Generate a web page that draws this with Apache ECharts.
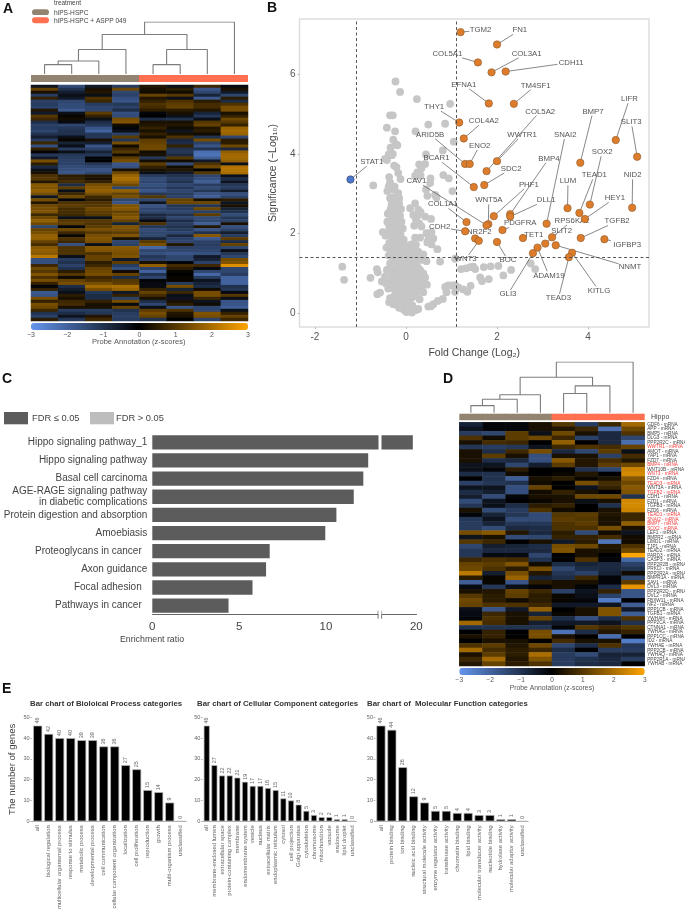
<!DOCTYPE html>
<html><head><meta charset="utf-8">
<style>html,body{margin:0;padding:0;background:#fff}#c{width:685px;height:910px}</style>
<script src="https://cdn.jsdelivr.net/npm/echarts@6/dist/echarts.min.js"></script>
</head><body><div id="c"></div>
<script>
const FONT='"Liberation Sans",Arial,sans-serif';
const TAUPE='#938471', CORAL='#ff6f50';
const treatmentNames=['hiPS-HSPC','hiPS-HSPC + ASPP 049'];
const treatmentOfColumn=[0,0,0,0,1,1,1,1];
const dendroA=[[0,1,.18],[8,2,.25],[9,3,.47],[4,5,.18],[11,6,.47],[10,12,.76],[13,7,1]];
const dendroD=[[0,1,.14],[8,2,.265],[9,3,.355],[4,5,.38],[11,6,.53],[10,12,.70],[13,7,1]];
const probeValues=[
[-.4,-1.5,-.5,-1.2,.4,-.3,.7,-.2],[1.2,-1,.3,1.3,.3,.5,-1.7,.3],[.3,-.6,.4,-1.4,.2,.2,-1.4,-.5],[-1.2,-.3,-.3,-1.3,1.2,1,-.7,-1.4],
[.6,-.5,.9,-1.6,.4,-.3,-1.8,.5],[-1.3,-1.4,.7,-1.7,.6,.9,.5,-.9],[-1.2,-1.5,-1.2,-1.1,.9,1.1,.8,.9],[-1.3,-1.5,-1.4,-1.3,.8,1.2,.8,1.4],
[.4,-1.8,-1.4,-.9,.5,.5,.4,1.4],[-.5,-.3,1.1,-1.6,-.1,.3,-.7,.3],[1,.1,.6,-1.5,0,-.3,-1.1,.6],[.7,.2,-.3,1.4,-.9,-1,-.3,1.3],
[-.9,-.2,-.9,1.5,.3,.3,1,1],[-1.3,-1.4,-1.1,.2,.4,.4,1.2,.6],[-1.2,-1.1,-1.7,-.1,.6,.2,.4,1.8],[-1.4,-1,-2,-.3,.3,-.4,.5,1.9],
[-1,-1,-1.1,-1.3,.6,.3,.2,1.8],[-.6,-.3,-1.1,1.1,.3,.9,-1,-1.4],[-1.2,.1,.3,-1.1,1.1,-.8,1.4,.5],[.7,-.7,-.6,1.4,1.2,-.9,-1.3,.5],
[-1.6,-.3,-1.7,.2,1.3,.6,-1.7,1.3],[.6,-1.2,-1.3,.7,1.3,-1,-1,-.8],[-.1,-.3,-.7,1,.2,-1.1,-2.2,1.7],[-1.1,-1.1,-1.1,.2,.3,-.8,-2.3,1.9],
[-.5,-1.2,-.1,1.1,-1.1,1,-1.9,1.9],[1.4,-1.3,0,1.4,.2,.2,-.5,1.7],[.5,-1.3,-1.1,-1.7,1.1,-1.5,.9,-.3],[-.8,-1.5,-1.4,-1.6,.6,.2,1.3,2.1],
[-.3,-1.6,-1.7,.3,.3,.4,0,2.1],[.3,-1.7,-1.4,1.3,-.3,-.5,1,2],[.9,.5,.4,1.8,-1.2,-1,-1.4,-.3],[1,.6,.3,2,-1.5,-1.2,-1.6,-.9],
[.4,.8,.6,1.7,-1.4,-1,-1.9,-.4],[1.6,-.9,1.4,1.3,-1.6,-1.4,-1.2,-1.1],[1.5,1.1,1.6,-1.4,-1.4,-1.1,-1.5,-1.2],[1.7,-.3,1.7,1.7,-1.7,-1.4,-1.1,-.6],
[1.4,.7,1.4,1.2,-1.1,-1.2,-1.7,-1.6],[-.4,1.3,.7,1.4,1,-1.3,-1.9,-1.3],[1.4,-.1,.5,-1.4,-1.4,1.2,.3,.5],[.4,.9,.9,-1.7,-.4,1.3,1.3,-.4],
[1.3,1.1,1,1.5,-1.7,-1.1,-1.1,.3],[1.4,.8,1.3,1.6,-1.4,-1.2,1.3,-.7],[1.5,.8,1.1,1.2,-1.4,-1.4,-1.3,-1],[.7,.7,1,1.4,-.8,-1,1.1,-1.5],
[1.3,-.3,-.3,1.6,-.9,-1.4,-1.5,-1.1],[1.7,1,1,1.2,-.2,-.9,-1.4,-1.3],[1.3,1.1,.9,-.7,.9,-1.2,-1.9,.3],[-1.4,-.1,1.1,1.5,-1.1,-1,.4,-1.6],
[1.2,1.3,1.4,1.4,-1.5,-1.2,-1.7,-1.3],[1.4,.7,1,1.1,-1.4,-1.4,-1,-.6],[1.7,.1,1.4,1.5,-1.4,-.8,1.6,-1.2],[1.7,.9,1.5,.3,-.7,-1.3,-1.8,1.1],
[1.2,.7,1.4,-1.4,1,-1.4,-1.3,-.9],[.8,-1.6,-.3,-1.3,1.4,.4,-1.2,1.2],[1.6,.9,1.6,1.6,-2.1,-1.3,-1.3,-1.4],[1.7,.9,1.5,1.5,-1.4,-1.4,-1.4,-.3],
[1.6,.9,.9,1.4,-1.6,-1.7,-1.6,-1.1],[2.2,-.3,1.2,1.5,-1.1,-1.4,-.5,-1.4],[-1.6,-1.2,1.2,-.5,-1.3,-1.4,-.7,1.4],[-1.6,-1,.5,1.1,.3,-.1,-1.3,1.5],
[.7,-1.3,.7,-1.2,1.7,.8,.7,2.6],[1.3,-1,1.2,-1.6,-1.3,.5,-.2,-1.4],[1,.5,1.3,.2,-2,.1,-1.4,-1.4],[1.5,1,1.4,1.2,-1,0,-2.1,-1.2],
[.9,.2,.7,-.9,-1.4,.1,-1.2,-2],[1.4,1.2,.9,1,-.1,.1,-.4,-2],[.6,1.4,1.4,1.1,-.2,-1.2,-.7,-2],[-.1,-.9,1.9,2,-.2,1.4,-.9,-1],
[.6,-.6,1.4,1.8,.6,-.7,.2,-1.1],[-1.8,-.3,-1.1,-.5,1.2,.7,1.4,-.2],[-1.7,.5,-.9,.6,.8,-.3,1.4,1],[1.4,.3,-.9,-1.3,.3,-.4,.7,-.3],
[.6,.7,.6,1.4,-.9,.3,-.4,-1.7],[1.4,.8,.3,-.2,-1.4,.5,.2,-1.7],[1.3,.3,.3,1.2,-.3,-1.7,-1.4,-1.9],[.7,-1.2,-1.2,-1,1.1,.9,-1.4,-.3],
[-1,-.9,-1.1,-1.2,1.4,.4,1.5,.6],[-1.3,-.4,.4,-1.3,1.2,.3,1.4,1.2],[.5,-1.1,.7,-1.2,-1,0,-1.3,.7]];

const volcanoGray=[
[-.23,5.82],[-.13,5.56],[.24,5.38],[.97,5.26],[-.35,4.97],[-.29,4.97],[.49,4.74],[.86,4.76],[-.42,4.66],[-.24,4.57],[.21,4.57],[-.28,4.36],[1.05,4.31],[-.23,4.25],[-.19,4.22],[-.34,4.16],[.81,4.09],[-.29,4],[-.38,3.99],[-.46,3.88],[-.42,3.85],[-.31,3.97],[.44,3.99],[.29,3.74],[.42,3.75],[-.26,3.71],[-.21,3.67],[.34,3.64],[.25,3.54],[.2,3.45],[.82,3.47],[.94,3.39],[-.17,3.52],[-.12,3.37],[-.37,3.42],[.54,3.39],[.32,3.46],[-.72,3.21],[-.35,3.29],[.53,3.27],[-.38,3.18],[-.25,3.18],[-.26,3.1],[-.41,3.07],[.44,3.11],[-.17,3.02],[-.19,2.95],[1.02,3.07],[.47,2.95],[.64,2.97],[-.32,2.91],[.67,2.91],[-.15,2.89],
[-.35,2.89],[-.28,2.85],[-.17,2.91],[-.15,2.76],[-.32,2.72],[-.24,2.68],[-.34,2.61],[-.17,2.6],[-.26,2.47],[-.13,2.45],[-.32,2.35],[-.21,2.32],[-.1,2.3],[-.37,2.2],[-.24,2.18],[-.15,2.15],[-.51,2.04],[-.42,2.03],[-.32,2.04],[-.21,2.01],[-.12,1.98],[-.31,1.88],[-.22,1.84],[-.13,1.8],[-.37,1.76],[-.26,1.72],[-.18,1.68],[-.09,1.65],[-.34,1.59],[-.23,1.55],[-.15,1.53],[-.06,1.51],[-.28,1.42],[-.19,1.38],[-.1,1.37],[-.01,1.34],[-.24,1.3],[-.27,2.55],[-.2,2.42],[-.29,2.1],[-.18,1.93],[-.28,1.65],[-.3,1.5],
[-.17,1.23],[-.1,1.2],[-.02,1.17],[.06,1.2],[-.23,1.11],[-.15,1.09],[-.06,1.06],[.03,1.08],[.12,1.11],[-.21,.96],[-.12,.94],[-.03,.91],[.06,.95],[.15,.98],[-.18,.81],[-.1,.8],[-.01,.78],[.09,.81],[.18,.84],[-.15,.67],[-.07,.64],[.01,.63],[.1,.66],[.19,.7],[-.17,.53],[-.09,.5],[0,.49],[.09,.52],[-.13,.38],[-.06,.36],[.03,.36],[.12,.39],[-.1,.23],[-.01,.21],[.07,.23],[-.04,.08],[.01,.03],[.06,.11],
[-1.4,1.17],[-1.36,.84],[-.78,.89],[-.64,1.11],[-.62,1.03],[-.53,.8],[-.46,.92],[-.37,.78],[-.57,.52],[-.63,.48],[-.35,.38],[-.37,.28],[-.28,.23],[-.22,.31],[-.42,1.09],[-.31,.96],
[.09,2.64],[.2,2.76],[.27,2.6],[.32,2.54],[.16,2.47],[.25,2.45],[.42,2.43],[.55,2.37],[.22,2.35],[.29,2.26],[.18,2.2],[.34,2.18],[.45,2.01],[.56,2.04],[.2,1.9],[.31,1.9],[.49,1.84],[.6,1.88],[.47,1.78],[.56,1.73],[.69,1.61],[.12,1.73],[.22,1.72],[.09,1.63],[.18,1.59],[.27,1.55],[.16,1.47],[.38,1.48],[.25,1.38],[.34,1.34],[.45,1.31],[.75,1.3],[.12,1.3],[.22,1.21],[.31,1.09],[.38,1],[.2,.96],[.27,.84],[.38,.81],[.34,.67],[.38,.53],[.23,.48],[.05,1.5],[-.02,1.4],[.05,1.35],
[.49,.17],[.55,.18],[.6,.23],[.7,.31],[.81,.36],[.27,.11],[.22,.08],[.86,.66],[.93,.7],[1,.7],[1.08,.71],[1.15,.65],[1.26,.6],[1.35,.54],[1.42,.69],[.89,.53],[1.08,.54],
[1.21,1.11],[1.32,1.13],[1.41,1.16],[1.48,1.17],[1.52,1.11],[1.71,1.16],[1.86,1.18],[2.03,1.19],[2.31,1.09],[2.14,.95],[1.63,.9],[1.67,.81],[1.82,.86],[1.08,1.37],[2.84,1.11],[2.74,1.25],
[-.4,2.5],[-.11,2.62],[-.41,2.3],[-.07,2.13],[-.45,1.95],[-.05,1.85],[-.43,1.65],[-.02,1.72],[-.38,1.45],[.02,1.62],[-.35,1.25],[.08,1.45],[-.33,1.1],[.19,1.32],[-.28,.8],[.26,1.15],[-.27,.62],[.28,.98],[-.25,.45],[.22,.58],[-.2,.2],[.16,.42],[-.15,.14],[.14,.2],[-.39,.62],[-.44,.75],[.42,.9],[.46,.72],[.3,.35],[.13,.02]];
// gene, x, y, label x, label y
const volcanoGenes=[
['TGM2',1.20,7.06,1.64,7.11],['FN1',2.00,6.75,2.50,7.11],['COL5A1',1.58,6.30,.91,6.52],['COL3A1',1.88,6.05,2.65,6.52],['CDH11',2.19,6.07,3.63,6.30],['EFNA1',1.82,5.27,1.27,5.74],['TM4SF1',2.37,5.26,2.85,5.72],['THY1',1.17,4.79,.62,5.18],['COL4A2',1.27,4.39,1.71,4.83],['ARID5B',1.30,3.75,.53,4.49],['ENO2',1.40,3.75,1.62,4.21],['COL5A2',1.77,3.57,2.95,5.07],['WWTR1',2.00,3.82,2.55,4.48],['SDC2',1.72,3.22,2.31,3.63],['BCAR1',1.49,3.17,.67,3.90],['BMP7',3.83,3.78,4.11,5.07],['LIFR',4.61,4.35,4.91,5.38],['SLIT3',5.08,3.93,4.95,4.80],['STAT1',-1.22,3.36,-.75,3.80],['NID2',4.97,2.65,4.98,3.47],['TEAD1',3.81,2.52,4.14,3.47],['SOX2',4.04,2.73,4.31,4.05],['LUM',3.55,2.64,3.56,3.32],['HEY1',3.93,2.37,4.59,2.89],['BMP4',2.29,2.49,3.14,3.89],['DLL1',2.29,2.43,3.08,2.84],['PHF1',1.93,2.44,2.70,3.23],['WNT5A',1.81,2.24,1.82,2.84],['CAV1',1.77,2.21,.23,3.32],['COL1A1',1.33,2.29,.81,2.74],['CDH2',1.30,2.06,.74,2.16],['NR2F2',1.52,1.88,1.61,2.04],['WNT3',1.60,1.82,1.31,1.36],['PDGFRA',2.12,2.09,2.51,2.26],['BOC',2.00,1.79,2.24,1.33],['SNAI2',3.09,2.25,3.50,4.48],['RPS6KA2',3.21,1.91,3.65,2.32],['SLIT2',3.06,1.75,3.42,2.08],['TET1',2.57,1.89,2.81,1.96],['NNMT',3.29,1.71,4.92,1.16],['ADAM19',2.89,1.65,3.14,.95],['GLI3',2.79,1.51,2.24,.48],['KITLG',3.65,1.52,4.24,.57],['TEAD3',3.58,1.41,3.35,.38],['TGFB2',3.84,1.89,4.64,2.31],['IGFBP3',4.36,1.86,4.86,1.73]];
const foldCutoffs=[-1.09,1.10], significanceCutoff=1.40;

const pathwayNames=['Hippo signaling pathway_1','Hippo signaling pathway','Basal cell carcinoma','AGE-RAGE signaling pathway\nin diabetic complications','Protein digestion and absorption','Amoebiasis','Proteoglycans in cancer  ','Axon guidance','Focal adhesion  ','Pathways in cancer  '];
const enrichmentRatio=[19.8,12.43,12.15,11.6,10.6,9.96,6.76,6.55,5.77,4.39];
const enrichmentTicks=[0,1,2,3,4,5,6,7,8,9,10,11,12,13,18,19,20];
const enrichmentLabels=[0,5,10,20];
const enrichmentBreak=[13,18];

const hippoGenes=['GDF6','APP','BMP5','DLG3','PPP2R2C','WWTR1','AMOT','YAP1','FZD7','BMP4','WNT10B','WNT3','FZD4','TEAD3','WNT3A','TGFB2','CDH1','FZD1','TGFB3','FZD6','TEAD1','SNAI2','BMP7','SOX2','LEF1','BMPR2','LIMD1','TJP1','TEAD2','PARD3','CASP3','PPP2R2B','PRKCI','PPP2R2A','BMPR1A','SAV1','DVL3','PPP2R2D','DVL2','FBXW11','NF2','PPP1CB','TGFB1','YWHAH','PPP2CA','CTNNA1','YWHAG','PPP1CC','ID2','YWHAE','PPP2CB','YWHAQ','PPP2R1A','YWHAB'];
const hippoHighlighted=['WWTR1','BMP4','WNT3','TEAD3','TGFB2','TEAD1','SNAI2','BMP7','SOX2'];
const hippoValues=[
[-.7,-.1,-.1,.3,1,-1.2,.7,1.9],[-.4,-.1,-.1,.3,.4,.7,-2.2,1.3],[-1.2,-1.4,1.1,-.3,1.3,.3,-.8,.9],[.9,.2,1.1,1.3,.7,-1.3,-.8,-1.4],[.3,.8,.7,0,1.7,0,-.8,-2.2],[-1.1,-1.2,-1.1,-.4,.7,.9,.8,1.2],
[.3,-.9,.7,1.4,-.8,-1.4,1.1,-.3],[.3,1.1,.3,-1.6,.3,.3,-1.3,.8],[.3,-.9,-.8,-1.6,1.6,.4,.8,.4],[-.4,-.4,-1.4,-.6,1.1,.4,1.1,1.3],[-.3,-.1,.5,0,0,-1,-1.4,2.4],[-.9,-1,.2,0,.1,.4,0,2.5],
[0,-1,-1.9,.3,.5,.1,.3,1.6],[-1.3,-1.1,-1,.2,0,1.4,.8,1.3],[-.4,-.4,-1.6,1.2,0,-.4,.6,1.6],[-.9,-.6,-1.6,.2,.6,.3,0,1.5],[-.6,-1.5,-.1,.3,.3,1.3,1.3,-1],[-1.5,-.4,0,.1,.3,-.3,.3,2.5],
[-1.1,-.3,-.9,.5,.6,0,-1,2.5],[.3,-1.5,-1.2,.9,.2,0,.3,2.4],[-.1,-.7,-1.1,-1.5,1,1.1,.4,.7],[-1.1,-.4,-1.5,-1.5,1.1,1,.3,.7],[-1.2,-.7,-1.1,-1.1,.9,1.1,.3,1.7],[-1.2,-1.5,-.8,-.9,.9,.9,1.4,.3],
[1.4,1.6,.4,-.8,.5,-1.5,.2,-.4],[-.4,.3,-1.5,-1.4,.6,.6,.8,.2],[1,.7,0,.3,-.5,.5,-2.4,.2],[-1.4,-.6,-.7,-.9,1.4,1.3,.4,.9],[-1.1,-.8,-.8,-.8,1.5,.3,.3,1.3],[-1.1,-.2,-.2,-1.4,0,.3,0,3],
[.7,.9,.8,-1,0,.9,-.1,-2.1],[1.2,1.1,1.5,.2,-.9,-.7,-.8,-1.3],[1.3,.9,.5,1.4,-1.4,-.9,-.8,-1],[2.2,-.6,1.4,.4,-1.1,-1.3,-.7,.2],[.5,.1,1.8,-.7,-.9,.7,-.1,-1.4],[-1.9,.1,-1.7,.5,.3,.3,-.1,1.1],
[-.2,-1.1,-.3,-.1,.3,-.1,-.9,2.7],[.3,.4,1.2,.7,-1.3,-.4,.6,-1.7],[1,.5,1.1,.5,.1,-.3,-1.3,-1.7],[1.3,.5,.2,.5,.1,-.1,-2.5,0],[1.2,.9,.9,.7,-.5,-.5,-.4,-1.9],[-.3,-1.7,-.5,1.7,0,.3,1.5,-.5],
[-.2,.7,.3,-.7,.1,.3,1.5,-1.9],[-.1,.9,.3,1.2,-.9,-1.6,-.9,.9],[1.9,.8,.3,-.6,-.5,-.5,-.4,-1],[-1,-1,-1,-1,-.1,1,.7,1],[0,.6,0,1.4,-2.3,-.9,.4,.6],[.3,.6,0,1.4,.3,0,-2.2,0],
[0,.3,.3,0,.8,.3,.3,-2.5],[.9,1.1,.4,1.3,-1.4,-.9,.9,-1.1],[1.9,.8,.5,.7,-.9,0,-1.2,-1.2],[.3,1.1,.5,2,-1.2,-1.5,-.7,-.7],[.7,1.9,.4,1.5,-1.2,-1,-.8,-1.2],[.4,1.2,.5,.9,-1.2,-.9,-.8,0]];

const bpNames=['all','biological regulation','multicellular organismal process','response to stimulus','metabolic process','developmental process','cell communication','cellular component organization','localization','cell proliferation','reproduction','growth','multi-organism process','unclassified'];
const bpGenes=[46,42,40,40,39,39,36,36,27,25,15,14,9,0];
const ccNames=['all','membrane-enclosed lumen','extracellular space','protein-containing complex','membrane','endomembrane system','vesicle','nucleus','extracellular matrix','endoplasmic reticulum','cytosol','cell projection','Golgi apparatus','cytoskeleton','chromosome','mitochondrion','vacuole','endosome','lipid droplet','unclassified'];
const ccGenes=[46,27,22,22,21,19,17,17,16,15,11,10,8,5,3,2,2,1,1,0];
const mfNames=['all','protein binding','ion binding','nucleic acid binding','structural molecule activity','enzyme regulator activity','transferase activity','chromatin binding','lipid binding','molecular transducer activity','nucleotide binding','hydrolase activity','molecular adaptor activity','unclassified'];
const mfGenes=[46,44,26,12,9,5,5,4,4,3,3,1,1,0];

const grids=[],xAxes=[],yAxes=[],series=[];
function addGrid(g,x,y){grids.push(Object.assign({containLabel:false,show:false,outerBoundsMode:'none'},g));
 const i=grids.length-1;xAxes.push(Object.assign({gridIndex:i},x));yAxes.push(Object.assign({gridIndex:i},y));return i;}
const HID={show:false};
function dendroPath(m){const pos=[];for(let i=0;i<8;i++)pos[i]=[i+.5,0];const d=[];
 m.forEach(([a,b,h])=>{const A=pos[a],B=pos[b];d.push([A[0],A[1]],[A[0],h],[B[0],h],[B[0],B[1]],['-','-']);pos.push([(A[0]+B[0])/2,h]);});return d;}
function heatData(v){const d=[];v.forEach((r,ri)=>r.forEach((c,ci)=>d.push([ci,ri,c])));return d;}
const cols=[0,1,2,3,4,5,6,7];
function heatBlock(L,W,T,H,barT,barH,dT,dH,merges,values,rowCfg,cbT,tickFont){
 const hg=addGrid({left:L,width:W,top:T,height:H},{type:'category',data:cols,show:false},
   Object.assign({type:'category',data:values.map((_,i)=>i),inverse:true,show:false},rowCfg||{}));
 const hi=series.length;
 series.push({type:'heatmap',xAxisIndex:hg,yAxisIndex:hg,data:heatData(values),silent:true,progressive:0});
 const dg=addGrid({left:L,width:W,top:dT,height:dH},{type:'value',min:0,max:8,show:false},{type:'value',min:0,max:1,show:false});
 series.push({type:'line',xAxisIndex:dg,yAxisIndex:dg,data:dendroPath(merges),showSymbol:false,connectNulls:false,silent:true,lineStyle:{color:'#7c7c7c',width:1.1}});
 const ag=addGrid({left:L,width:W,top:barT,height:barH},{type:'category',data:cols,show:false},{type:'value',min:0,max:1,show:false});
 series.push({type:'bar',xAxisIndex:ag,yAxisIndex:ag,barWidth:W/8+1,silent:true,data:treatmentOfColumn.map(t=>({value:1,itemStyle:{color:t?CORAL:TAUPE}}))});
 addGrid({left:L,width:W,top:cbT,height:7},
   {type:'value',min:-3,max:3,interval:1,axisLine:HID,axisTick:HID,splitLine:HID,
    axisLabel:{margin:2,fontFamily:FONT,fontSize:tickFont,color:'#555',formatter:v=>String(v).replace('-','\u2212')}},
   {type:'value',show:false,min:0,max:1});
 return {hi,cbT,L,W};
}
const A=heatBlock(31,217,85,236,75,7,22,52,dendroA,probeValues,null,323,7);
const D=heatBlock(459.3,185.4,422.3,243.7,413.7,6.5,362,50.7,dendroD,hippoValues,
  {show:true,position:'right',axisLine:HID,axisTick:HID,data:hippoGenes.map(g=>g+' - mRNA'),
   axisLabel:{show:true,interval:0,margin:2.5,fontFamily:FONT,fontSize:4.7,
     color:(v)=>hippoHighlighted.includes(v.split(' ')[0])?'#f53a3a':'#444'}},668,6.5);

// Volcano
const vg=addGrid({show:true,left:299.5,width:349.5,top:19,height:308,borderColor:'#dedede',borderWidth:1.5,backgroundColor:'#fff'},
 {type:'value',min:-2.34,max:5.34,name:'Fold Change (Log\u2082)',nameLocation:'middle',nameGap:21,
  nameTextStyle:{fontFamily:FONT,fontSize:10.5,color:'#444'},splitLine:HID,axisLine:{show:false,onZero:false},
  axisTick:{customValues:[-2,0,2,4],length:2,lineStyle:{color:'#bbb'}},
  axisLabel:{customValues:[-2,0,2,4],margin:5,fontFamily:FONT,fontSize:10,color:'#555'}},
 {type:'value',min:-.344,max:7.39,name:'Significance (\u2212Log\u2081\u2080)',nameLocation:'middle',nameGap:12,
  nameTextStyle:{fontFamily:FONT,fontSize:10.5,color:'#444'},splitLine:HID,axisLine:{show:false,onZero:false},
  axisTick:{customValues:[0,2,4,6],length:2,lineStyle:{color:'#bbb'}},
  axisLabel:{customValues:[0,2,4,6],margin:4,fontFamily:FONT,fontSize:10,color:'#555'}});
const mlStyle={color:'#444',type:[3,2.5],width:.9};
series.push({type:'scatter',xAxisIndex:vg,yAxisIndex:vg,data:volcanoGray,symbolSize:7.8,silent:true,itemStyle:{color:'#c6c6c6',opacity:1},
 markLine:{silent:true,symbol:'none',label:HID,lineStyle:mlStyle,animation:false,
  data:[{xAxis:foldCutoffs[0]},{xAxis:foldCutoffs[1]},{yAxis:significanceCutoff}]}});
series.push({type:'custom',xAxisIndex:vg,yAxisIndex:vg,silent:true,clip:false,z:3,
 data:volcanoGenes.map(g=>g.slice(1)),
 renderItem(params,api){
  const p=api.coord([api.value(0),api.value(1)]),l=api.coord([api.value(2),api.value(3)]);
  const name=volcanoGenes[params.dataIndex][0];
  const hw=name.length*2.55+1,hh=4.2,dx=p[0]-l[0],dy=p[1]-l[1];
  const t=Math.min(dx?hw/Math.abs(dx):1e9,dy?hh/Math.abs(dy):1e9);
  return {type:'group',children:[
   {type:'line',shape:{x1:p[0],y1:p[1],x2:l[0]+dx*t,y2:l[1]+dy*t},style:{stroke:'#555',lineWidth:.7}},
   {type:'text',style:{text:name,x:l[0],y:l[1],align:'center',verticalAlign:'middle',font:'7.8px '+FONT,fill:'#555'}}]};
 }});
series.push({type:'scatter',xAxisIndex:vg,yAxisIndex:vg,z:4,silent:true,symbolSize:7.4,
 data:volcanoGenes.map(g=>({value:[g[1],g[2]],itemStyle:g[1]<0?{color:'#4d78cf',borderColor:'#345',opacity:1}:{color:'#dd7d2c',borderColor:'#8b5a2b',opacity:1}})),
 itemStyle:{borderWidth:.6}});

// Enrichment bars
const cg=addGrid({left:152.3,width:264,top:433.2,height:181.5},
 {type:'value',min:0,max:20,interval:5,breaks:[{start:enrichmentBreak[0],end:enrichmentBreak[1],gap:.2}],
  breakArea:{show:true,expandOnClick:false,zigzagAmplitude:0,itemStyle:{color:'#fff',borderColor:'#fff',borderWidth:0,opacity:1}},
  axisLine:{show:true,onZero:false,lineStyle:{color:'#666',width:1}},splitLine:HID,
  axisTick:{customValues:enrichmentTicks,length:3,lineStyle:{color:'#666'}},
  axisLabel:{customValues:enrichmentLabels,margin:6,fontFamily:FONT,fontSize:11.5,color:'#444'}},
 {type:'category',data:pathwayNames,inverse:true,axisLine:HID,axisTick:HID,
  axisLabel:{margin:5,fontFamily:FONT,fontSize:10,color:'#444',lineHeight:11,align:'right'}});
series.push({type:'bar',xAxisIndex:cg,yAxisIndex:cg,data:enrichmentRatio,barWidth:14.3,silent:true,itemStyle:{color:'#5c5c5c'}});
series.push({type:'custom',xAxisIndex:cg,yAxisIndex:cg,silent:true,clip:false,z:5,data:enrichmentBreak.map(v=>[v]),
 renderItem(params,api){const x=api.coord([api.value(0),0])[0],b=params.coordSys.y+params.coordSys.height;
  return {type:'line',shape:{x1:x,y1:b-4,x2:x,y2:b+4},style:{stroke:'#555',lineWidth:.8}};}});

// GO bars
function goPanel(left,width,names,vals,barW,yName){
 const g=addGrid({left,width,top:717.3,height:104},
  {type:'category',data:names,axisLine:{lineStyle:{color:'#999',width:.8}},axisTick:{length:2,alignWithLabel:true,lineStyle:{color:'#999',width:.6}},
   axisLabel:{interval:0,rotate:90,margin:4,fontFamily:FONT,fontSize:5.9,color:'#666'}},
  {type:'value',min:0,max:50,interval:10,splitLine:HID,axisLine:HID,axisTick:{show:true,length:2,lineStyle:{color:'#999',width:.6}},
   axisLabel:{margin:2.5,fontFamily:FONT,fontSize:5.6,color:'#666'},
   name:yName||'',nameLocation:'middle',nameGap:14.5,nameTextStyle:{fontFamily:FONT,fontSize:9.6,color:'#444'}});
 series.push({type:'bar',xAxisIndex:g,yAxisIndex:g,data:vals,barWidth:barW,silent:true,
  itemStyle:{color:'#000',borderColor:'#b5b5b5',borderWidth:.7},
  label:{show:true,position:'top',rotate:90,distance:2,align:'left',verticalAlign:'middle',fontFamily:FONT,fontSize:5.4,color:'#666'}});
}
goPanel(32.2,154,bpNames,bpGenes,9,'The number of genes');
goPanel(202.9,153.2,ccNames,ccGenes,6);
goPanel(375.5,152.6,mfNames,mfGenes,9);

const vm=(blk)=>({type:'continuous',seriesIndex:blk.hi,min:-3,max:3,calculable:false,hoverLink:false,orient:'horizontal',left:blk.L,top:blk.cbT,
 padding:0,itemWidth:7,itemHeight:blk.W,text:['',''],showLabel:false,inRange:{color:['#6495ed','#000000','#ffa500']}});

function txt(text,x,y,font,fill,align){return {type:'text',silent:true,x,y,style:{text,font:font+' '+FONT,fill:fill||'#444',align:align||'left',verticalAlign:'middle'}};}
function box(x,y,w,h,c,r){return {type:'rect',silent:true,shape:{x,y,width:w,height:h,r:r||0},style:{fill:c}};}
const graphic=[
 txt('A',3,9,'bold 14px','#111'),txt('B',267,8,'bold 14px','#111'),txt('C',2,379,'bold 14px','#111'),txt('D',443,379,'bold 14px','#111'),txt('E',2,689,'bold 14px','#111'),
 txt('treatment',54,3.6,'6.4px','#444'),
 box(32,9.3,17,5.8,TAUPE,3),box(32,17.3,17,6,CORAL,3),
 txt(treatmentNames[0],54,13,'6.6px','#444'),txt(treatmentNames[1],54,20.8,'6.6px','#444'),
 txt('Probe Annotation (z-scores)',138.7,341.5,'7.5px','#555','center'),
 txt('Probe Annotation (z-scores)',552,688.5,'6.8px','#555','center'),
 txt('Hippo',651,417.3,'7px','#444'),
 box(4,412,24,12.3,'#5c5c5c'),box(90,412,24,12.3,'#bdbdbd'),
 txt('FDR \u2264 0.05',32,418,'9.3px','#444'),txt('FDR > 0.05',116,418,'9.3px','#444'),
 txt('Enrichment ratio',152,639.5,'8.8px','#444','center'),
 txt('Bar chart of Bioloical Process categories',30,704,'bold 7.8px','#333'),
 txt('Bar chart of Cellular Component categories',197,704,'bold 7.8px','#333'),
 txt('Bar chart of  Molecular Function categories',367,704,'bold 7.8px','#333')
];
const chart=echarts.init(document.getElementById('c'),null,{renderer:'canvas'});
chart.setOption({animation:false,backgroundColor:'#fff',textStyle:{fontFamily:FONT},grid:grids,xAxis:xAxes,yAxis:yAxes,series,visualMap:[vm(A),vm(D)],graphic});
</script></body></html>
